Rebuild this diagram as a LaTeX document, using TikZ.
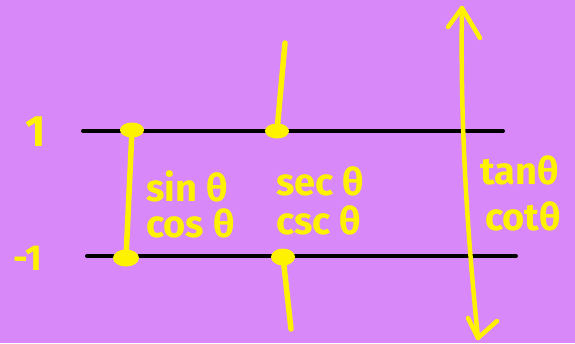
\documentclass[tikz,border=0pt]{standalone}
\usepackage{fontspec}
\usetikzlibrary{shapes.geometric}
\setmainfont{Fira Sans}
\definecolor{bg}{HTML}{D888F9}
\definecolor{yel}{HTML}{FFF200}
\begin{document}
\begin{tikzpicture}[x=1pt,y=-1pt,
  axis/.style={line width=4pt, black, line cap=round},
  ystroke/.style={line width=5.5pt, yel, line cap=round},
  dot/.style={ellipse, fill=yel, inner sep=0pt},
  lbl/.style={text=yel, font=\fontsize{38}{40}\selectfont\bfseries, inner sep=0pt, anchor=base west},
  num/.style={text=yel, font=\fontsize{44}{44}\selectfont\bfseries, inner sep=0pt, anchor=base}]
\fill[bg] (0,0) rectangle (575,343);
\useasboundingbox (0,0) rectangle (575,343);
% axes
\coordinate (tl) at (83,131); \coordinate (tr) at (503,131);
\coordinate (bl) at (87,256); \coordinate (br) at (516,256);
\draw[axis] (tl) -- (tr);
\draw[axis] (bl) -- (br);
% labels 1 and -1
\node[num] (one) at (36,146) {1};
\node[num, font=\fontsize{36}{36}\selectfont\bfseries] (mone) at (28,270) {-1};
% sin/cos bar
\node[dot, minimum width=24pt, minimum height=15pt] (s1) at (132,130) {};
\node[dot, minimum width=26pt, minimum height=17pt] (s2) at (126,258) {};
\draw[ystroke] (s1.center) -- (s2.center);
% sec/csc rays
\node[dot, minimum width=24pt, minimum height=15pt] (c1) at (277,131) {};
\node[dot, minimum width=24pt, minimum height=17pt] (c2) at (283,257) {};
\coordinate (cu) at (285,43);
\coordinate (cd) at (291,329);
\draw[ystroke] (c1.center) -- (cu);
\draw[ystroke] (c2.center) -- (cd);
% tan/cot arrow
\coordinate (at) at (462,8);
\coordinate (ab) at (478,338);
\draw[ystroke, line width=4.5pt, line join=round] (at) .. controls (460,130) and (468,240) .. (ab);
\draw[ystroke, line width=4.5pt, line join=round] (448,27) -- (at) -- (480,38);
\draw[ystroke, line width=4.5pt, line join=round] (468,318) -- (ab) -- (497,321);
% texts
\node[lbl] (sin) at (146,201) {sin θ};
\node[lbl] (cos) at (146,237) {cos θ};
\node[lbl] (sec) at (276,195) {sec θ};
\node[lbl] (csc) at (276,234) {csc θ};
\node[lbl] (tan) at (480,184) {tanθ};
\node[lbl] (cot) at (485,230) {cotθ};
\end{tikzpicture}
\end{document}
